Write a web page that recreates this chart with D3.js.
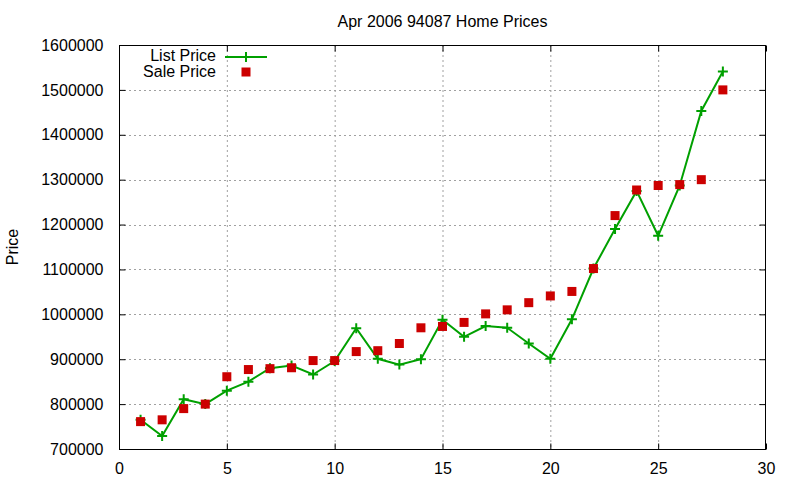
<!DOCTYPE html>
<html><head><meta charset="utf-8">
<script src="https://cdn.jsdelivr.net/npm/d3@7"></script>
<style>
body{margin:0;background:#fff;}
text{font-family:"Liberation Sans",Arial,sans-serif;font-size:16px;fill:#000;}
</style></head>
<body><svg id="c" width="800" height="480"></svg>
<script>
const houses = d3.range(1, 29);
const listPrice = [765000,729000,811000,800000,830000,850000,880000,886000,866000,896000,
  969000,901000,888000,900000,988000,950000,974000,970000,935000,901000,
  989000,1102000,1190000,1275000,1175000,1287000,1453000,1541000];
const salePrice = [761000,765000,790000,800000,861000,877000,879000,881000,897000,897000,
  917000,919000,935000,970000,973000,982000,1001000,1010000,1026000,1041000,
  1051000,1102000,1220000,1277000,1287000,1289000,1300000,1500000];
const xTicks = [0,5,10,15,20,25,30];
const yTicks = [700000,800000,900000,1000000,1100000,1200000,1300000,1400000,1500000,1600000];
const titleText = "Apr 2006 94087 Home Prices";
const yLabel = "Price";
const seriesNames = ["List Price","Sale Price"];

const svg = d3.select("#c");
const L=119, R=766, T=45, B=449;
const x = d3.scaleLinear().domain([0,30]).range([L,R]);
const y = d3.scaleLinear().domain([700000,1600000]).range([B,T]);
const green="#00a000", red="#cc0000";

// grid
const g = svg.append("g");
g.selectAll(".gx").data(xTicks.filter(d=>d>0&&d<30)).join("line")
  .attr("x1",d=>x(d)+0.5).attr("x2",d=>x(d)+0.5).attr("y1",T).attr("y2",B)
  .attr("stroke","#a0a0a0").attr("stroke-dasharray","2,3");
g.selectAll(".gy").data(yTicks.filter(d=>d>700000&&d<1600000)).join("line")
  .attr("y1",d=>Math.round(y(d))+0.5).attr("y2",d=>Math.round(y(d))+0.5).attr("x1",L).attr("x2",R)
  .attr("stroke","#a0a0a0").attr("stroke-dasharray","2,3");

// axes
const ax = d3.axisBottom(x).tickValues(xTicks).tickSize(-6).tickPadding(13);
const axT = d3.axisTop(x).tickValues(xTicks).tickSize(-6).tickFormat("");
const ay = d3.axisLeft(y).tickValues(yTicks).tickSize(-6).tickPadding(16).tickFormat(d3.format("d"));
const ayR = d3.axisRight(y).tickValues(yTicks).tickSize(-6).tickFormat("");
function style(sel){sel.select(".domain").remove();sel.selectAll("line").attr("stroke","#000");sel.selectAll("text").style("font-size","16px").attr("fill","#000");}
svg.append("g").attr("transform",`translate(0,${B+0.5})`).call(ax).call(style);
svg.append("g").attr("transform",`translate(0,${T+0.5})`).call(axT).call(style);
svg.append("g").attr("transform",`translate(${L+0.5},0)`).call(ay).call(style);
svg.append("g").attr("transform",`translate(${R-0.5},0)`).call(ayR).call(style);
svg.append("rect").attr("x",L+0.5).attr("y",T+0.5).attr("width",R-L-1).attr("height",B-T)
  .attr("fill","none").attr("stroke","#000").attr("stroke-width",1);

// list price line
const data = houses.map((h,i)=>({h, lp:listPrice[i], sp:salePrice[i]}));
svg.append("path").datum(data)
  .attr("d",d3.line().x(d=>x(d.h)).y(d=>y(d.lp)))
  .attr("fill","none").attr("stroke",green).attr("stroke-width",2);
function cross(sel,cx,cy){
  sel.append("path").attr("d",`M${cx-5},${cy}H${cx+5}M${cx},${cy-5}V${cy+5}`)
    .attr("stroke",green).attr("stroke-width",2);
}
const cg = svg.append("g");
data.forEach(d=>cross(cg,x(d.h),y(d.lp)));

svg.append("g").selectAll("rect").data(data).join("rect")
  .attr("x",d=>x(d.h)-4.5).attr("y",d=>y(d.sp)-4.5).attr("width",9).attr("height",9)
  .attr("fill",red);

// legend
svg.append("text").attr("x",216).attr("y",61).attr("text-anchor","end").text(seriesNames[0]);
svg.append("line").attr("x1",225).attr("x2",267).attr("y1",57).attr("y2",57).attr("stroke",green).attr("stroke-width",2);
cross(svg,246,57);
svg.append("text").attr("x",216).attr("y",77).attr("text-anchor","end").text(seriesNames[1]);
svg.append("rect").attr("x",241.5).attr("y",67.5).attr("width",9).attr("height",9).attr("fill",red);

// title & label
svg.append("text").attr("x",(L+R)/2).attr("y",27).attr("text-anchor","middle").text(titleText);
svg.append("text").attr("transform",`translate(18,${(T+B)/2}) rotate(-90)`).attr("text-anchor","middle").text(yLabel);
</script></body></html>
